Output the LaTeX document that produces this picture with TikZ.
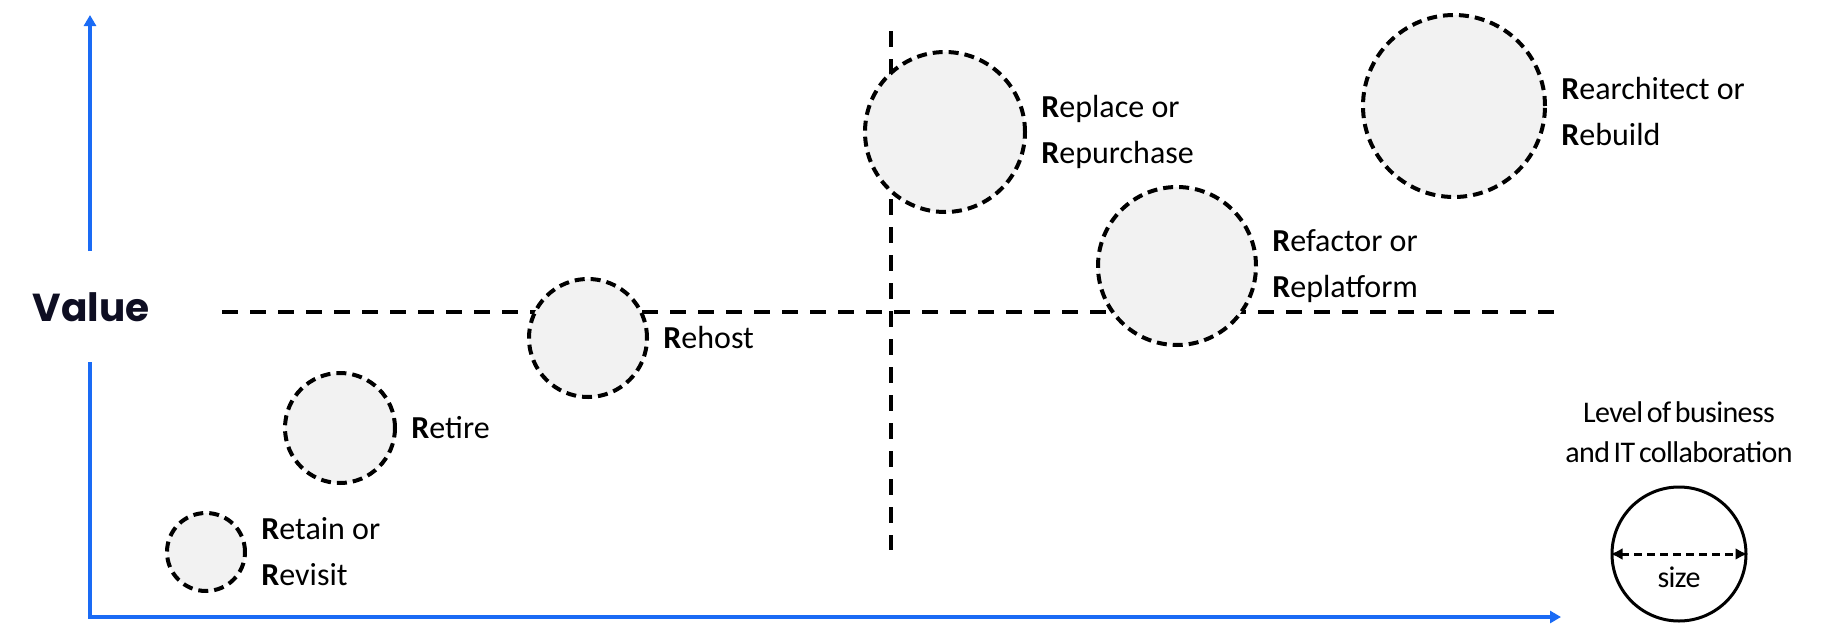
\documentclass[tikz,border=0pt]{standalone}
\usepackage{fontspec}
\setmainfont{Carlito}
\newfontfamily\valuefont{Poppins}
\newfontfamily\legendfont[LetterSpace=-2,WordSpace=0.6]{Carlito}
\usetikzlibrary{positioning,arrows.meta}

\definecolor{axisblue}{HTML}{1A6BF5}
\definecolor{valuenavy}{RGB}{14,14,34}
\definecolor{bubblegray}{HTML}{F2F2F2}

\tikzset{
  axis/.style={draw=axisblue, line width=1.75pt},
  guide/.style={line width=2pt, dash pattern=on 8pt off 6pt},
  bubble/.style={circle, draw, fill=bubblegray, line width=2pt, dash pattern=on 5pt off 3pt, inner sep=0pt},
  lbl/.style={inner sep=0pt, align=left, font=\fontsize{16pt}{23pt}\selectfont},
}

\begin{document}
\begin{tikzpicture}[x=0.5pt,y=-0.5pt]
	  \useasboundingbox (0,0) rectangle (1822,632);
	  % axes
	  \coordinate (origin) at (90,617);
	  \coordinate (ytop) at (90,15);
	  \coordinate (xend) at (1561,617);
	  \draw[axis,-{Triangle[length=5.5pt,width=6pt]}](90,251) -- (ytop);
	  \draw[axis,-{Triangle[length=5.5pt,width=6pt]}](90,362) -- (origin) -- (xend);
	  \draw(91,307) node[font=\valuefont\bfseries\fontsize{19.5pt}{23pt}\selectfont, text=valuenavy](value) {Value};
	  % quadrant lines
	  \draw[guide](222,312) coordinate(hleft) -- (1555,312) coordinate(hright);
	  \draw[guide](891,31) coordinate(vtop) -- (891,550) coordinate(vbottom);
	  % bubbles
	  \foreach \nm / \cx / \cy / \rad / \dy / \txt in {retain/206/552/39/0/{\textbf{R}etain or\\\textbf{R}evisit},
	    retire/340/428/55/0/{\textbf{R}etire}, rehost/588/338/59/0/{\textbf{R}ehost},
	    replace/945/132/80/0/{\textbf{R}eplace or\\\textbf{R}epurchase},
	    refactor/1177/266/79/0/{\textbf{R}efactor or\\\textbf{R}eplatform},
	    rearch/1454/106/91/-3/{\textbf{R}earchitect or\\\textbf{R}ebuild}}
	  {
		\draw(\cx,\cy) node[bubble, minimum size=\rad pt](\nm) {};
		\node[lbl, right=7pt of \nm, yshift=\dy pt](\nm-lbl) {\txt};
	  }
	  % legend
	  \draw(1679,554) node[circle, draw, fill=white, line width=1.5pt, minimum size=67pt, inner sep=0pt](legend) {};
	  \draw[line width=1.5pt, dash pattern=on 4pt off 2.5pt, {Latex[length=6pt,width=6pt]}-{Latex[length=6pt,width=6pt]}](legend.west) -- (legend.east);
	  \node[lbl, align=center, font=\legendfont\fontsize{15pt}{20pt}\selectfont, above=11pt of legend](legend-title) {Level of business\\and IT collaboration};
	  \node[lbl, font=\legendfont\fontsize{15pt}{20pt}\selectfont, below=6pt of legend.center](size) {size};
	\end{tikzpicture}
\end{document}
